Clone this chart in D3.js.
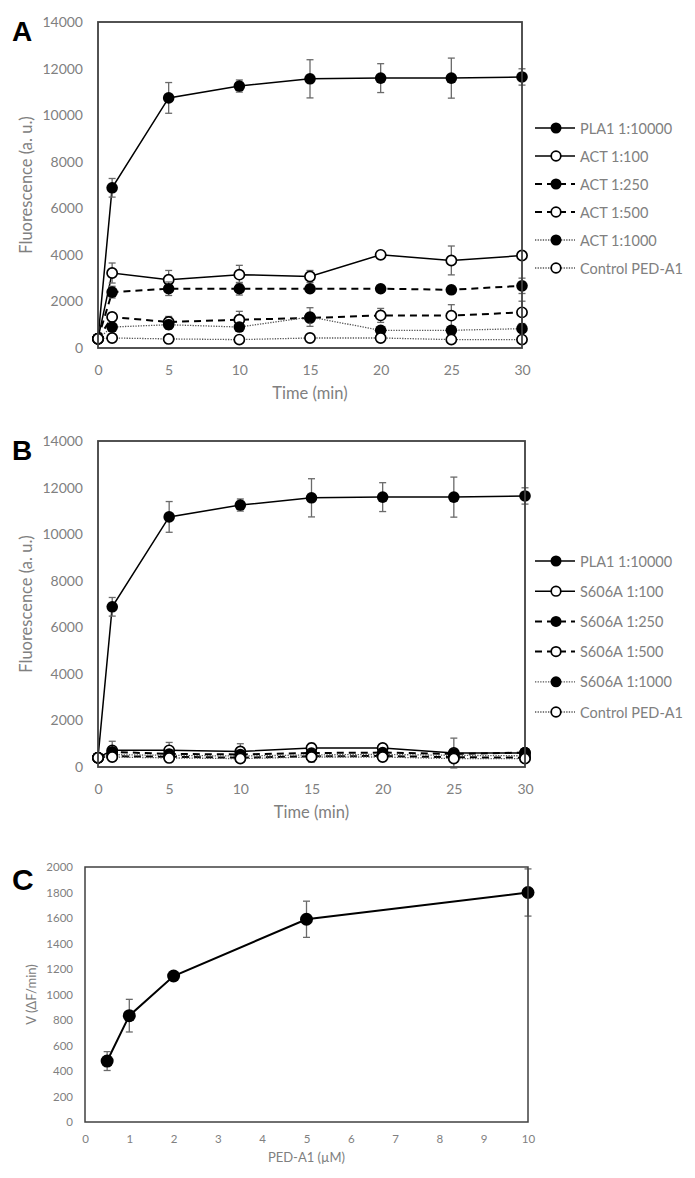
<!DOCTYPE html>
<html>
<head>
<meta charset="utf-8">
<script src="https://cdn.jsdelivr.net/npm/d3@7"></script>
<style>
  html, body { margin: 0; padding: 0; background: #fff; }
  svg { display: block; }
  text { font-family: Lato, "Open Sans", sans-serif; }
</style>
</head>
<body>
<svg id="chart" width="695" height="1178"></svg>
<script>
// ---------- DATA ----------
const timeMin = [0, 1, 5, 10, 15, 20, 25, 30];
const timeTicks = [0, 5, 10, 15, 20, 25, 30];
const fluoTicks = [0, 2000, 4000, 6000, 8000, 10000, 12000, 14000];

// Panel A
const pla1     = [400, 6880, 10740, 11250, 11560, 11590, 11590, 11640];
const pla1Err  = [0, 400, 660, 260, 820, 620, 860, 350];
const act100    = [400, 3220, 2930, 3150, 3070, 4000, 3760, 3970];
const act100Err = [0, 430, 400, 400, 260, 100, 620, 120];
const act250    = [400, 2400, 2545, 2545, 2545, 2545, 2500, 2670];
const act250Err = [0, 250, 290, 270, 150, 100, 120, 330];
const act500    = [400, 1330, 1115, 1215, 1290, 1400, 1390, 1530];
const act500Err = [0, 150, 240, 360, 150, 300, 470, 480];
const act1000    = [400, 900, 1000, 900, 1330, 760, 760, 830];
const act1000Err = [0, 100, 200, 150, 400, 100, 100, 100];
const control    = [400, 430, 390, 360, 430, 430, 360, 360];
const controlErr = [0, 40, 40, 40, 40, 40, 40, 40];

// Panel B
const s606a100    = [400, 715, 715, 670, 815, 815, 600, 600];
const s606a100Err = [0, 390, 340, 330, 200, 120, 640, 100];
const s606a250    = [400, 650, 560, 540, 600, 620, 560, 620];
const s606a250Err = [0, 100, 100, 120, 100, 100, 120, 100];
const s606a500    = [400, 460, 440, 400, 460, 470, 420, 400];
const s606a500Err = [0, 60, 60, 150, 250, 60, 200, 60];
const s606a1000    = [400, 530, 500, 470, 520, 540, 500, 480];
const s606a1000Err = [0, 60, 60, 60, 60, 60, 60, 60];

const labelsA = ["PLA1 1:10000", "ACT 1:100", "ACT 1:250", "ACT 1:500", "ACT 1:1000", "Control PED-A1"];
const labelsB = ["PLA1 1:10000", "S606A 1:100", "S606A 1:250", "S606A 1:500", "S606A 1:1000", "Control PED-A1"];

// Panel C
const pedA1 = [0.5, 1, 2, 5, 10];
const vRate = [478, 834, 1145, 1590, 1800];
const vErr  = [74, 128, 20, 142, 185];
const pedTicks = [0, 1, 2, 3, 4, 5, 6, 7, 8, 9, 10];
const vTicks = [0, 200, 400, 600, 800, 1000, 1200, 1400, 1600, 1800, 2000];

// ---------- STYLES ----------
const styles = [
  { dash: null,      width: 1.5, color: "#000", filled: true },
  { dash: null,      width: 1.5, color: "#000", filled: false },
  { dash: "7,5",     width: 2,   color: "#000", filled: true },
  { dash: "7,5",     width: 2,   color: "#000", filled: false },
  { dash: "1.3,1.3", width: 1.3, color: "#555", filled: true },
  { dash: "1.3,1.3", width: 1.3, color: "#555", filled: false }
];
const tickColor = "#808080";
const boxColor = "#404040";
const errColor = "#6a6a6a";

const svg = d3.select("#chart");

function drawFrame(g, x, y, o) {
  g.append("rect")
    .attr("x", x.range()[0]).attr("y", y.range()[1])
    .attr("width", x.range()[1] - x.range()[0])
    .attr("height", y.range()[0] - y.range()[1])
    .attr("fill", "none").attr("stroke", boxColor).attr("stroke-width", o.boxW);

  const ya = g.append("g").attr("transform", `translate(${x.range()[0]},0)`)
    .call(d3.axisLeft(y).tickValues(o.yTicks).tickSize(0).tickPadding(o.yPad).tickFormat(d3.format("d")));
  ya.select(".domain").remove();
  ya.selectAll("text").attr("fill", tickColor).style("font-size", o.tickFs + "px").style("font-family", "Lato, sans-serif");

  const xa = g.append("g").attr("transform", `translate(0,${y.range()[0]})`)
    .call(d3.axisBottom(x).tickValues(o.xTicks).tickSize(0).tickPadding(o.xPad).tickFormat(d3.format("d")));
  xa.select(".domain").remove();
  xa.selectAll("text").attr("fill", tickColor).style("font-size", o.tickFs + "px").style("font-family", "Lato, sans-serif");

  g.append("text")
    .attr("x", (x.range()[0] + x.range()[1]) / 2).attr("y", o.xTitleY)
    .attr("text-anchor", "middle").attr("fill", tickColor)
    .style("font-size", o.titleFs + "px").text(o.xTitle);

  g.append("text")
    .attr("transform", `translate(${o.yTitleX},${(y.range()[0] + y.range()[1]) / 2}) rotate(-90)`)
    .attr("text-anchor", "middle").attr("dominant-baseline", "middle").attr("fill", tickColor)
    .style("font-size", o.titleFs + "px").text(o.yTitle);

  g.append("text")
    .attr("x", o.letterX).attr("y", o.letterY)
    .style("font-family", "'Liberation Sans', Arial, sans-serif")
    .style("font-weight", "bold").style("font-size", o.letterFs + "px")
    .attr("fill", "#000").text(o.letter);
}

function drawSeries(g, x, y, xs, ys, errs, st, r) {
  const pts = xs.map((d, i) => ({ x: d, y: ys[i], e: errs[i] }));
  const line = d3.line().x(d => x(d.x)).y(d => y(d.y));
  const sg = g.append("g");
  sg.append("path").datum(pts).attr("d", line)
    .attr("fill", "none").attr("stroke", st.color).attr("stroke-width", st.width)
    .attr("stroke-dasharray", st.dash);
  const eb = sg.selectAll(".eb").data(pts.filter(d => d.e > 0)).enter().append("g");
  eb.append("line").attr("x1", d => x(d.x)).attr("x2", d => x(d.x))
    .attr("y1", d => y(d.y - d.e)).attr("y2", d => y(d.y + d.e))
    .attr("stroke", errColor).attr("stroke-width", 1.3);
  eb.append("line").attr("x1", d => x(d.x) - 3.5).attr("x2", d => x(d.x) + 3.5)
    .attr("y1", d => y(d.y + d.e)).attr("y2", d => y(d.y + d.e))
    .attr("stroke", errColor).attr("stroke-width", 1.3);
  eb.append("line").attr("x1", d => x(d.x) - 3.5).attr("x2", d => x(d.x) + 3.5)
    .attr("y1", d => y(d.y - d.e)).attr("y2", d => y(d.y - d.e))
    .attr("stroke", errColor).attr("stroke-width", 1.3);
  sg.selectAll(".m").data(pts).enter().append("circle")
    .attr("cx", d => x(d.x)).attr("cy", d => y(d.y)).attr("r", st.filled ? r : r - 0.7)
    .attr("fill", st.filled ? "#000" : "#fff")
    .attr("stroke", "#000").attr("stroke-width", st.filled ? 0 : 1.7);
}

function drawLegend(g, labels, x0, y0, step) {
  labels.forEach((lab, i) => {
    const st = styles[i];
    const yy = y0 + i * step;
    g.append("line").attr("x1", x0).attr("x2", x0 + 40).attr("y1", yy).attr("y2", yy)
      .attr("stroke", st.color).attr("stroke-width", st.width).attr("stroke-dasharray", st.dash);
    g.append("circle").attr("cx", x0 + 21).attr("cy", yy).attr("r", st.filled ? 5.5 : 4.8)
      .attr("fill", st.filled ? "#000" : "#fff").attr("stroke", "#000").attr("stroke-width", st.filled ? 0 : 1.7);
    g.append("text").attr("x", x0 + 45).attr("y", yy).attr("dominant-baseline", "central")
      .attr("fill", tickColor).style("font-size", "14.5px").text(lab);
  });
}

function timePanel(top, bottom, right, letterY, seriesY, seriesE, labels, legY, legStep, letter) {
  const x = d3.scaleLinear().domain([0, 30]).range([98, right]);
  const y = d3.scaleLinear().domain([0, 14000]).range([bottom, top]);
  const g = svg.append("g");
  seriesY.forEach((ys, i) => drawSeries(g, x, y, timeMin, ys, seriesE[i], styles[i], 5.8));
  drawFrame(g, x, y, {
    boxW: 1.8, yTicks: fluoTicks, xTicks: timeTicks, yPad: 15, xPad: 17, tickFs: 14, titleFs: 16.5,
    xTitle: "Time (min)", yTitle: "Fluorescence (a. u.)", xTitleY: bottom + 51, yTitleX: 28,
    letter: letter, letterX: 12, letterY: letterY, letterFs: 28
  });
  drawLegend(g, labels, 535, legY, legStep);
}

timePanel(22, 348, 522, 41,
  [pla1, act100, act250, act500, act1000, control],
  [pla1Err, act100Err, act250Err, act500Err, act1000Err, controlErr],
  labelsA, 128, 28, "A");

timePanel(441, 767, 525, 460,
  [pla1, s606a100, s606a250, s606a500, s606a1000, control],
  [pla1Err, s606a100Err, s606a250Err, s606a500Err, s606a1000Err, controlErr],
  labelsB, 561, 30.2, "B");

// Panel C
(function () {
  const x = d3.scaleLinear().domain([0, 10]).range([85, 528]);
  const y = d3.scaleLinear().domain([0, 2000]).range([1122, 867]);
  const g = svg.append("g");
  drawSeries(g, x, y, pedA1, vRate, vErr, { dash: null, width: 2, color: "#000", filled: true }, 6.5);
  drawFrame(g, x, y, {
    boxW: 1.5, yTicks: vTicks, xTicks: pedTicks, yPad: 12, xPad: 13, tickFs: 11.5, titleFs: 13,
    xTitle: "PED-A1 (µM)", yTitle: "V (ΔF/min)", xTitleY: 1162, yTitleX: 33,
    letter: "C", letterX: 12, letterY: 890, letterFs: 30
  });
})();
</script>
</body>
</html>
